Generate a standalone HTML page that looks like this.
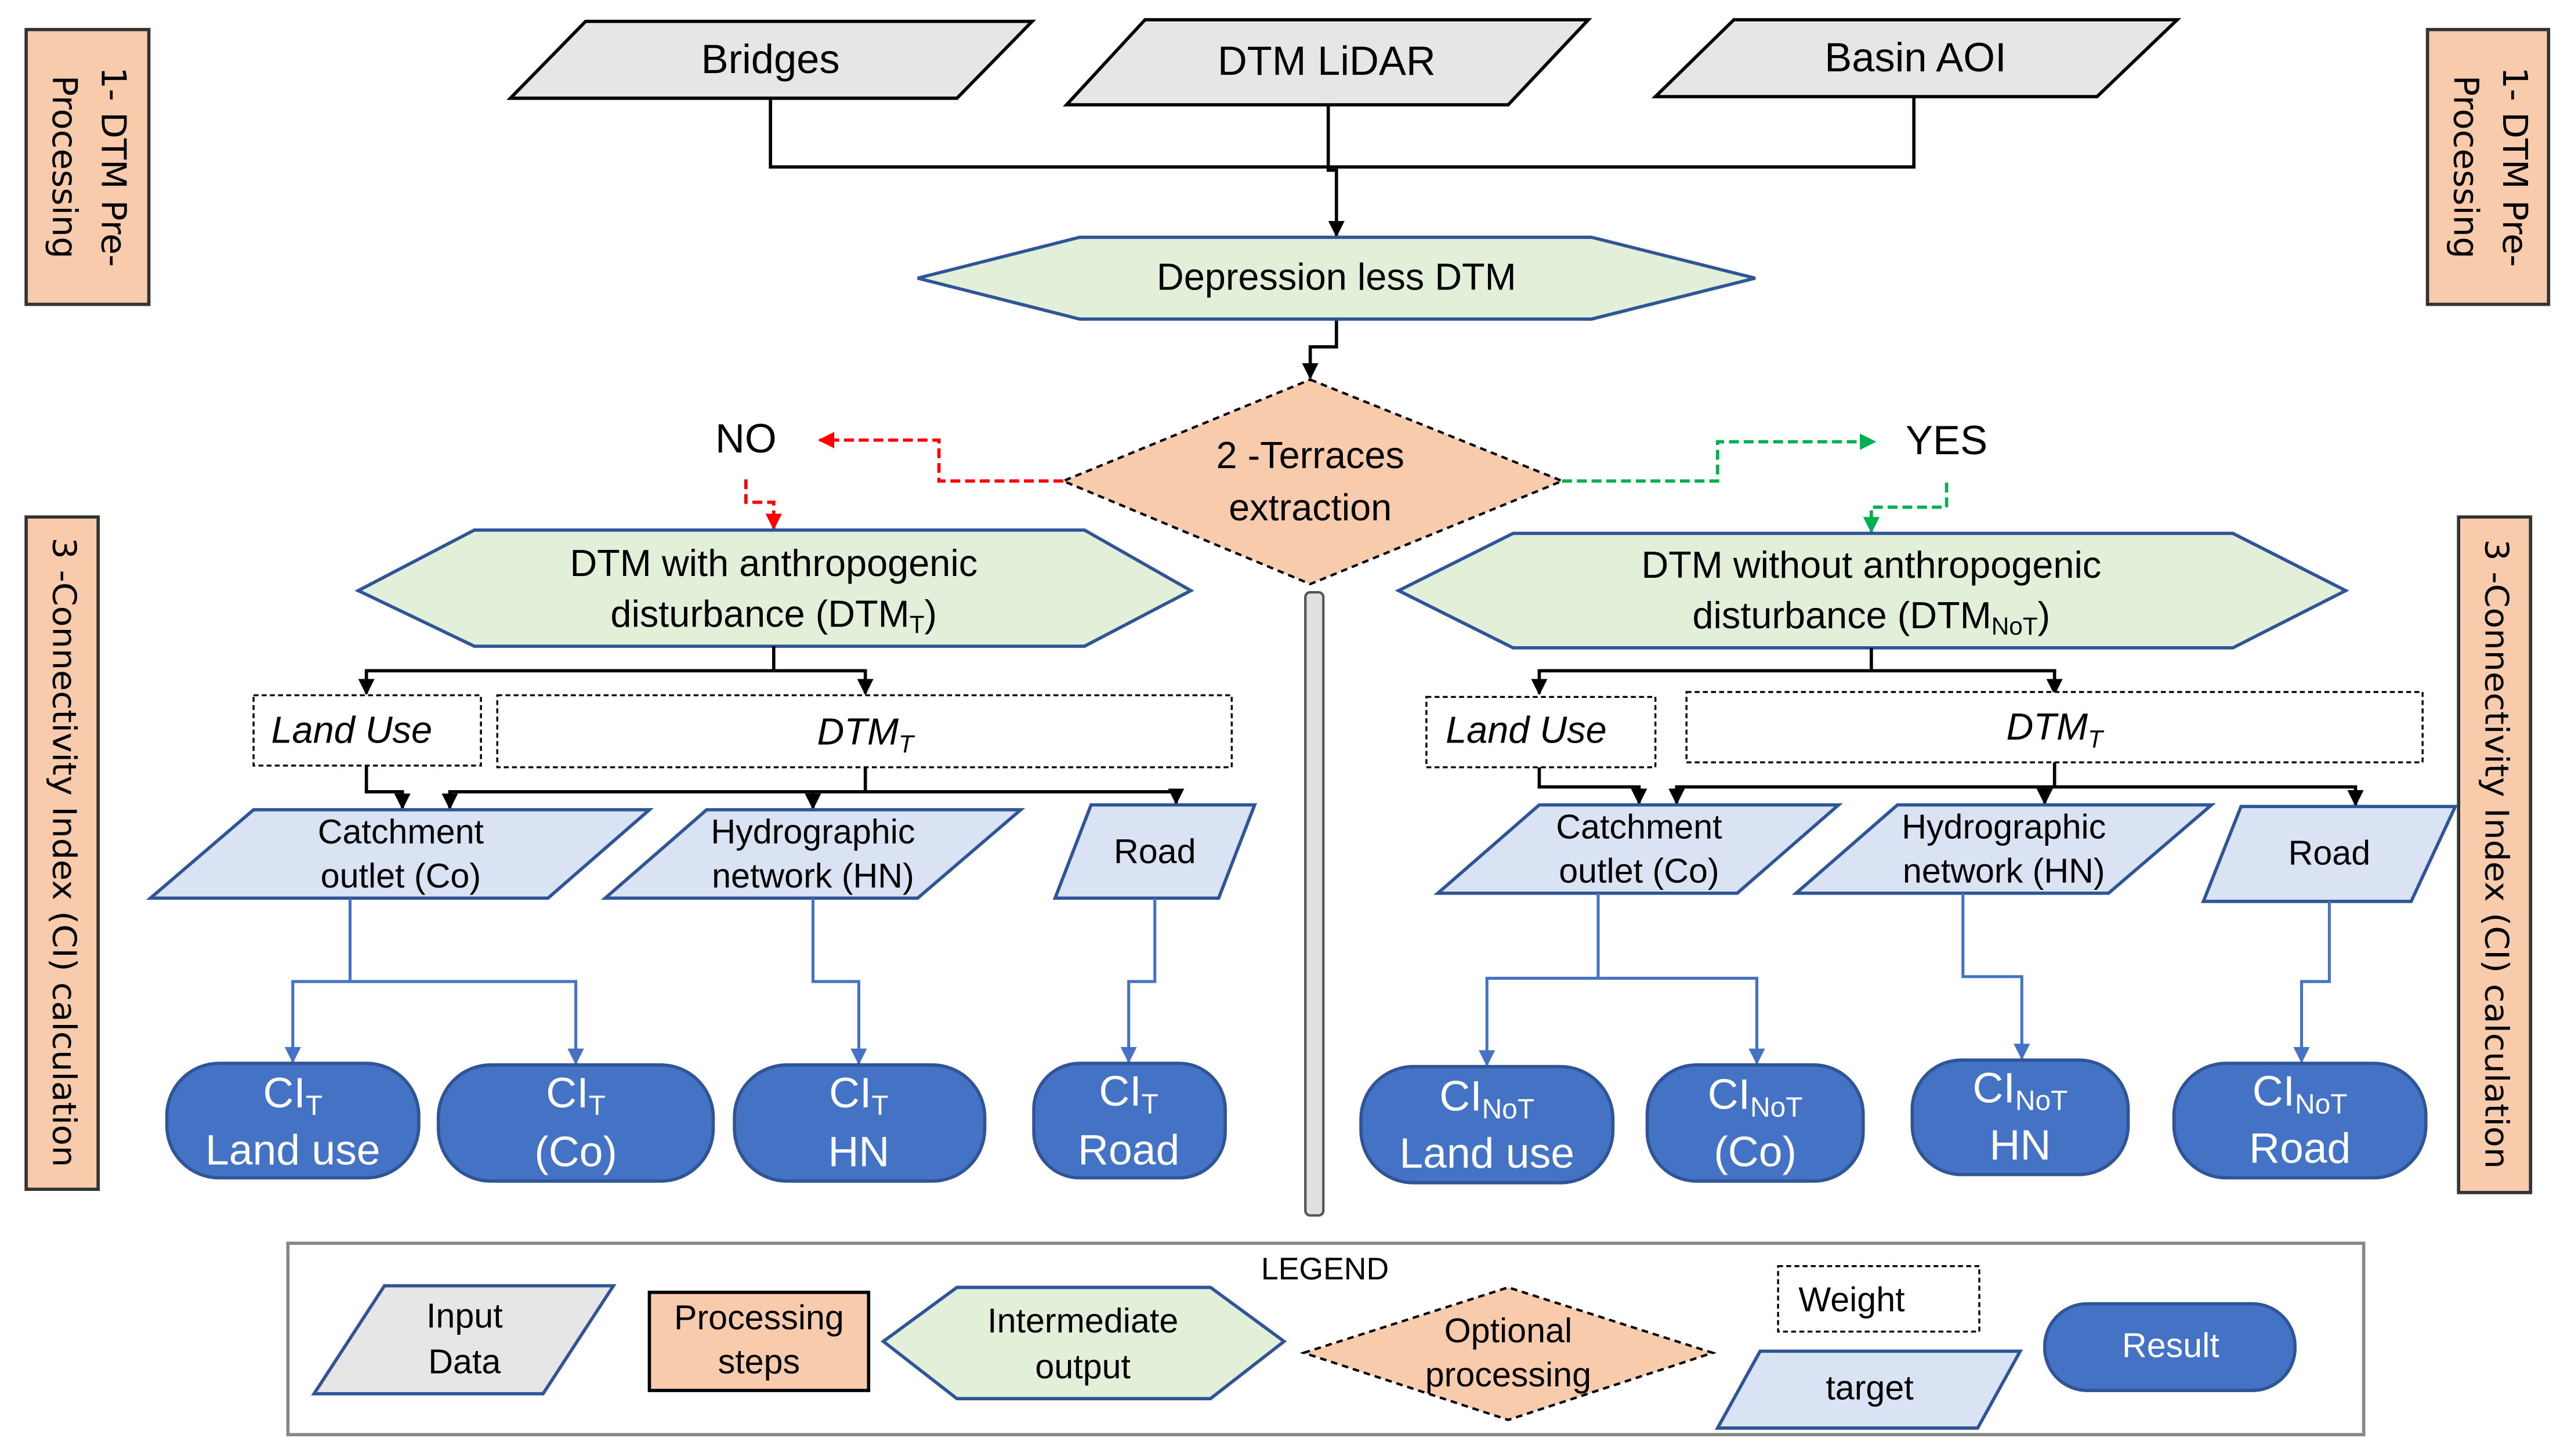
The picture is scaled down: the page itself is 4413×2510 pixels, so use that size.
<!DOCTYPE html>
<html><head><meta charset="utf-8"><style>
html,body{margin:0;padding:0;background:#fff;}
svg{display:block;}
text{font-family:"Liberation Sans Narrow","Liberation Sans",sans-serif;dominant-baseline:middle;text-anchor:middle;fill:#000;}
.s{font-family:"DejaVu Sans","Liberation Sans",sans-serif;}
.w{fill:#fff;}
</style></head><body>
<svg width="4413" height="2510" viewBox="0 0 1565 890" xmlns="http://www.w3.org/2000/svg">
<defs>
<marker id="ak" markerWidth="10" markerHeight="10" refX="9" refY="5" orient="auto" markerUnits="userSpaceOnUse" viewBox="0 0 10 10"><path d="M0,0 L10,5 L0,10z" fill="#000"/></marker>
<marker id="ab" markerWidth="10" markerHeight="10" refX="9" refY="5" orient="auto" markerUnits="userSpaceOnUse" viewBox="0 0 10 10"><path d="M0,0 L10,5 L0,10z" fill="#4472c4"/></marker>
<marker id="ar" markerWidth="10" markerHeight="10" refX="9" refY="5" orient="auto" markerUnits="userSpaceOnUse" viewBox="0 0 10 10"><path d="M0,0 L10,5 L0,10z" fill="#f00"/></marker>
<marker id="ag" markerWidth="10" markerHeight="10" refX="9" refY="5" orient="auto" markerUnits="userSpaceOnUse" viewBox="0 0 10 10"><path d="M0,0 L10,5 L0,10z" fill="#00b050"/></marker>
</defs>
<rect width="1565" height="890" fill="#fff"/>

<!-- side boxes -->
<rect x="16" y="18" width="75" height="168" fill="#f8cbad" stroke="#333" stroke-width="2"/>
<g transform="translate(53,102) rotate(90)"><text class="s" x="0" y="-15" font-size="21">1- DTM  Pre-</text><text class="s" x="0" y="15" font-size="21">Processing</text></g>
<rect x="1484" y="18" width="74" height="168" fill="#f8cbad" stroke="#333" stroke-width="2"/>
<g transform="translate(1521,102) rotate(90)"><text class="s" x="0" y="-15" font-size="21">1- DTM  Pre-</text><text class="s" x="0" y="15" font-size="21">Processing</text></g>
<rect x="16" y="316" width="44" height="411" fill="#f8cbad" stroke="#333" stroke-width="2"/>
<g transform="translate(38,521) rotate(90)"><text class="s" x="0" y="0" font-size="20" textLength="385" lengthAdjust="spacingAndGlyphs">3 -Connectivity Index (CI) calculation</text></g>
<rect x="1503" y="316" width="44" height="413" fill="#f8cbad" stroke="#333" stroke-width="2"/>
<g transform="translate(1525,522) rotate(90)"><text class="s" x="0" y="0" font-size="20" textLength="385" lengthAdjust="spacingAndGlyphs">3 -Connectivity Index (CI) calculation</text></g>

<!-- top inputs -->
<g fill="#e7e6e6" stroke="#000" stroke-width="2">
<polygon points="312,60 358,13 631,13 585,60"/>
<polygon points="652,64 700,12 971,12 922,64"/>
<polygon points="1012,59 1060,12 1331,12 1282,59"/>
</g>
<text x="471" y="38" font-size="25">Bridges</text>
<text x="811" y="39" font-size="25">DTM LiDAR</text>
<text x="1171" y="37" font-size="25">Basin AOI</text>
<g fill="none" stroke="#000" stroke-width="2">
<polyline points="471,60 471,102 1170,102 1170,59"/>
<polyline points="812,64 812,104 817,104 817,144" marker-end="url(#ak)"/>
<polyline points="817,195 817,212 801,212 801,231" marker-end="url(#ak)"/>
</g>

<polygon points="561,170 660,145 973,145 1073,170 973,195 660,195" fill="#e2efd9" stroke="#2f5597" stroke-width="2"/>
<text x="817" y="171" font-size="23">Depression less DTM</text>

<polygon points="801,232 955,294 801,357 650,294" fill="#f8cbad" stroke="#000" stroke-width="1.5" stroke-dasharray="4,3"/>
<text x="801" y="280" font-size="23">2 -Terraces</text>
<text x="801" y="312" font-size="23">extraction</text>

<text x="456" y="270" font-size="25">NO</text>
<text x="1190" y="271" font-size="25">YES</text>
<g fill="none" stroke-width="2" stroke-dasharray="6,3">
<polyline points="650,294 574,294 574,269 501,269" stroke="#f00" marker-end="url(#ar)"/>
<polyline points="456,293 456,307 473,307 473,323" stroke="#f00" marker-end="url(#ar)"/>
<polyline points="955,294 1050,294 1050,270 1146,270" stroke="#00b050" marker-end="url(#ag)"/>
<polyline points="1190,295 1190,310 1144,310 1144,325" stroke="#00b050" marker-end="url(#ag)"/>
</g>

<rect x="798" y="362" width="11" height="381" rx="3" fill="#e0e0e0" stroke="#555" stroke-width="1.5"/>

<!-- left branch -->
<polygon points="219,361 290,324 663,324 728,361 663,395 290,395" fill="#e2efd9" stroke="#2f5597" stroke-width="2"/>
<text x="473" y="346" font-size="23">DTM with anthropogenic</text>
<text x="473" y="377" font-size="23">disturbance  (DTM<tspan font-size="15" dy="6">T</tspan><tspan dy="-6">)</tspan></text>
<g fill="none" stroke="#000" stroke-width="2">
<polyline points="473,395 473,410"/>
<polyline points="473,410 224,410 224,424" marker-end="url(#ak)"/>
<polyline points="473,410 529,410 529,424" marker-end="url(#ak)"/>
<polyline points="224,468 224,484 246,484 246,494" marker-end="url(#ak)"/>
<polyline points="529,469 529,484"/>
<polyline points="529,484 275,484 275,494" marker-end="url(#ak)"/>
<polyline points="497,484 497,494" marker-end="url(#ak)"/>
<polyline points="529,484 719,484 719,491" marker-end="url(#ak)"/>
</g>
<g fill="#fff" stroke="#000" stroke-width="1.2" stroke-dasharray="3,2">
<rect x="155" y="425" width="139" height="43"/>
<rect x="304" y="425" width="449" height="44"/>
</g>
<text x="215" y="448" font-size="23" font-style="italic">Land Use</text>
<text x="529" y="449" font-size="23" font-style="italic">DTM<tspan font-size="15" dy="7">T</tspan></text>
<g fill="#dae3f3" stroke="#2f5597" stroke-width="2">
<polygon points="92,549 155,495 397,495 335,549"/>
<polygon points="370,549 432,495 624,495 561,549"/>
<polygon points="645,549 667,492 767,492 745,549"/>
</g>
<text x="245" y="510" font-size="21">Catchment</text><text x="245" y="537" font-size="21">outlet (Co)</text>
<text x="497" y="510" font-size="21">Hydrographic</text><text x="497" y="537" font-size="21">network (HN)</text>
<text x="706" y="522" font-size="21">Road</text>
<g fill="none" stroke="#4472c4" stroke-width="1.8">
<polyline points="214,549 214,600"/>
<polyline points="214,600 179,600 179,649" marker-end="url(#ab)"/>
<polyline points="214,600 352,600 352,650" marker-end="url(#ab)"/>
<polyline points="497,549 497,600 525,600 525,650" marker-end="url(#ab)"/>
<polyline points="706,549 706,600 690,600 690,649" marker-end="url(#ab)"/>
</g>
<g fill="#4472c4" stroke="#2f5597" stroke-width="2">
<rect x="102" y="650" width="154" height="70" rx="32"/>
<rect x="268" y="651" width="168" height="71" rx="32"/>
<rect x="449" y="651" width="153" height="71" rx="32"/>
<rect x="632" y="650" width="117" height="70" rx="28"/>
</g>
<g font-size="26">
<text class="w" x="179" y="670">CI<tspan font-size="17" dy="7">T</tspan></text><text class="w" x="179" y="705">Land use</text>
<text class="w" x="352" y="670">CI<tspan font-size="17" dy="7">T</tspan></text><text class="w" x="352" y="706">(Co)</text>
<text class="w" x="525" y="670">CI<tspan font-size="17" dy="7">T</tspan></text><text class="w" x="525" y="706">HN</text>
<text class="w" x="690" y="669">CI<tspan font-size="17" dy="7">T</tspan></text><text class="w" x="690" y="705">Road</text>
</g>

<!-- right branch -->
<polygon points="855,361 925,326 1365,326 1434,361 1365,396 925,396" fill="#e2efd9" stroke="#2f5597" stroke-width="2"/>
<text x="1144" y="347" font-size="23">DTM without anthropogenic</text>
<text x="1144" y="378" font-size="23">disturbance  (DTM<tspan font-size="15" dy="6">NoT</tspan><tspan dy="-6">)</tspan></text>
<g fill="none" stroke="#000" stroke-width="2">
<polyline points="1144,396 1144,410"/>
<polyline points="1144,410 941,410 941,424" marker-end="url(#ak)"/>
<polyline points="1144,410 1256,410 1256,424" marker-end="url(#ak)"/>
<polyline points="941,469 941,481 1002,481 1002,491" marker-end="url(#ak)"/>
<polyline points="1256,466 1256,481"/>
<polyline points="1256,481 1025,481 1025,491" marker-end="url(#ak)"/>
<polyline points="1250,481 1250,491" marker-end="url(#ak)"/>
<polyline points="1256,481 1440,481 1440,492" marker-end="url(#ak)"/>
</g>
<g fill="#fff" stroke="#000" stroke-width="1.2" stroke-dasharray="3,2">
<rect x="872" y="426" width="140" height="43"/>
<rect x="1031" y="423" width="450" height="43"/>
</g>
<text x="933" y="448" font-size="23" font-style="italic">Land Use</text>
<text x="1256" y="446" font-size="23" font-style="italic">DTM<tspan font-size="15" dy="7">T</tspan></text>
<g fill="#dae3f3" stroke="#2f5597" stroke-width="2">
<polygon points="879,546 941,492 1124,492 1062,546"/>
<polygon points="1098,546 1160,492 1352,492 1289,546"/>
<polygon points="1347,551 1370,493 1501,493 1474,551"/>
</g>
<text x="1002" y="507" font-size="21">Catchment</text><text x="1002" y="534" font-size="21">outlet (Co)</text>
<text x="1225" y="507" font-size="21">Hydrographic</text><text x="1225" y="534" font-size="21">network (HN)</text>
<text x="1424" y="523" font-size="21">Road</text>
<g fill="none" stroke="#4472c4" stroke-width="1.8">
<polyline points="977,546 977,598"/>
<polyline points="977,598 909,598 909,651" marker-end="url(#ab)"/>
<polyline points="977,598 1074,598 1074,650" marker-end="url(#ab)"/>
<polyline points="1200,546 1200,597 1236,597 1236,647" marker-end="url(#ab)"/>
<polyline points="1424,551 1424,600 1407,600 1407,649" marker-end="url(#ab)"/>
</g>
<g fill="#4472c4" stroke="#2f5597" stroke-width="2">
<rect x="832" y="652" width="154" height="71" rx="32"/>
<rect x="1007" y="651" width="132" height="71" rx="30"/>
<rect x="1169" y="648" width="132" height="70" rx="30"/>
<rect x="1329" y="650" width="154" height="70" rx="32"/>
</g>
<g font-size="26">
<text class="w" x="909" y="672">CI<tspan font-size="17" dy="7">NoT</tspan></text><text class="w" x="909" y="707">Land use</text>
<text class="w" x="1073" y="671">CI<tspan font-size="17" dy="7">NoT</tspan></text><text class="w" x="1073" y="706">(Co)</text>
<text class="w" x="1235" y="667">CI<tspan font-size="17" dy="7">NoT</tspan></text><text class="w" x="1235" y="702">HN</text>
<text class="w" x="1406" y="669">CI<tspan font-size="17" dy="7">NoT</tspan></text><text class="w" x="1406" y="704">Road</text>
</g>

<!-- legend -->
<rect x="176" y="760" width="1269" height="117" fill="none" stroke="#888" stroke-width="2"/>
<text x="810" y="777" font-size="19" font-family="Liberation Sans, sans-serif">LEGEND</text>
<polygon points="192,852 235,786 375,786 332,852" fill="#e7e6e6" stroke="#2f5597" stroke-width="2"/>
<text x="284" y="806" font-size="21">Input</text><text x="284" y="834" font-size="21">Data</text>
<rect x="397" y="790" width="134" height="60" fill="#f8cbad" stroke="#000" stroke-width="2"/>
<text x="464" y="807" font-size="21">Processing</text><text x="464" y="834" font-size="21">steps</text>
<polygon points="540,820 585,787 740,787 785,820 740,855 585,855" fill="#e2efd9" stroke="#2f5597" stroke-width="2"/>
<text x="662" y="809" font-size="21">Intermediate</text><text x="662" y="837" font-size="21">output</text>
<polygon points="797,827 922,787 1047,827 922,868" fill="#f8cbad" stroke="#000" stroke-width="1.5" stroke-dasharray="4,3"/>
<text x="922" y="815" font-size="21">Optional</text><text x="922" y="842" font-size="21">processing</text>
<rect x="1087" y="774" width="123" height="40" fill="#fff" stroke="#000" stroke-width="1.2" stroke-dasharray="3,2"/>
<text x="1132" y="796" font-size="21">Weight</text>
<polygon points="1050,873 1076,826 1235,826 1209,873" fill="#dae3f3" stroke="#2f5597" stroke-width="2"/>
<text x="1143" y="850" font-size="21">target</text>
<rect x="1250" y="797" width="153" height="53" rx="26" fill="#4472c4" stroke="#2f5597" stroke-width="2"/>
<text class="w" x="1327" y="824" font-size="21">Result</text>
</svg>
</body></html>
